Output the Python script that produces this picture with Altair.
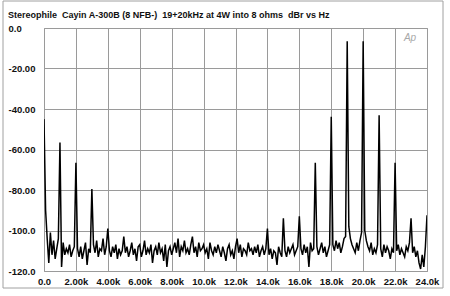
import altair as alt
import pandas as pd

title_text = "Stereophile  Cayin A-300B (8 NFB-)  19+20kHz at 4W into 8 ohms  dBr vs Hz"
logo_text = "Ap"

# FFT bin spacing (Hz)
bin_hz = 100

# Spectrum level (dBr), one value per 100 Hz bin, rows of 1 kHz
db_values = [
    -45, -90, -104, -116, -101, -112, -105, -114, -109, -104,      # 0k
    -56.5, -118, -106, -112, -109, -111, -107, -113, -110, -108,   # 1k
    -66.5, -109, -113, -108, -114, -110, -106, -117, -109, -111,   # 2k
    -79.5, -107, -111, -105, -113, -109, -110, -104, -112, -108,   # 3k
    -99, -110, -113, -108, -111, -107, -114, -109, -112, -110,     # 4k
    -103, -111, -108, -113, -110, -106, -112, -109, -115, -108,    # 5k
    -107, -113, -110, -105, -112, -109, -111, -107, -116, -110,    # 6k
    -108, -112, -106, -111, -109, -115, -107, -118, -110, -108,    # 7k
    -112, -109, -106, -111, -104, -113, -108, -110, -105, -111,    # 8k
    -109, -112, -107, -103, -111, -108, -113, -106, -110, -109,    # 9k
    -107, -111, -109, -114, -106, -110, -112, -108, -111, -107,    # 10k
    -110, -113, -108, -111, -115, -109, -107, -112, -110, -114,    # 11k
    -108, -104, -111, -107, -113, -109, -110, -112, -106, -110,    # 12k
    -109, -112, -108, -111, -107, -113, -110, -108, -112, -109,    # 13k
    -99, -112, -109, -114, -110, -111, -117, -108, -111, -113,     # 14k
    -94, -110, -113, -108, -111, -109, -107, -112, -110, -108,     # 15k
    -93, -109, -112, -107, -111, -108, -118, -106, -110, -109,     # 16k
    -66.5, -108, -112, -109, -106, -111, -108, -113, -110, -107,   # 17k
    -43.8, -107, -110, -105, -109, -106, -111, -108, -104, -103,   # 18k
    -6.6, -98, -104, -107, -109, -111, -106, -110, -105, -101,     # 19k
    -6.5, -100, -105, -108, -110, -106, -112, -109, -111, -107,    # 20k
    -43.1, -109, -113, -107, -111, -108, -110, -114, -109, -111,   # 21k
    -66.5, -110, -107, -112, -109, -111, -113, -108, -110, -106,   # 22k
    -94, -111, -108, -113, -110, -116, -119, -112, -118, -108,     # 23k
    -92.5,                                                         # 24k
]
freq_hz = [i * bin_hz for i in range(len(db_values))]

x_ticks = [0, 2000, 4000, 6000, 8000, 10000, 12000, 14000, 16000, 18000, 20000, 22000, 24000]
x_labels = ["0.0", "2.00k", "4.00k", "6.00k", "8.00k", "10.0k", "12.0k", "14.0k",
            "16.0k", "18.0k", "20.0k", "22.0k", "24.0k"]
y_ticks = [0, -20, -40, -60, -80, -100, -120]
y_labels = ["0.0", "-20.00", "-40.00", "-60.00", "-80.00", "-100.0", "-120.0"]


def label_expr(vals, labels):
    parts = [f"datum.value == {v} ? '{l}'" for v, l in zip(vals, labels)]
    return " : ".join(parts) + " : ''"


FONT = "Liberation Sans"
GRID = "#9a9a9a"

spec = pd.DataFrame({"f": freq_hz, "db": db_values})

x_enc = alt.X(
    "f:Q",
    scale=alt.Scale(domain=[0, 24000], nice=False, zero=False),
    axis=alt.Axis(
        values=x_ticks, labelExpr=label_expr(x_ticks, x_labels), title=None,
        grid=True, gridColor=GRID, gridWidth=1, gridOpacity=1,
        ticks=False, tickSize=0, domain=False, labelPadding=5,
        labelFont=FONT, labelFontSize=9.5, labelFontWeight="bold", labelColor="#111",
        labelOverlap=False, labelFlush=False,
    ),
)
y_enc = alt.Y(
    "db:Q",
    scale=alt.Scale(domain=[-120, 0], nice=False, zero=False),
    axis=alt.Axis(
        values=y_ticks, labelExpr=label_expr(y_ticks, y_labels), title=None,
        grid=True, gridColor=GRID, gridWidth=1, gridOpacity=1,
        ticks=False, tickSize=0, domain=False, labelPadding=36, labelAlign="left",
        labelFont=FONT, labelFontSize=9.5, labelFontWeight="bold", labelColor="#111",
        labelOverlap=False, labelFlush=False,
    ),
)

line = alt.Chart(spec).mark_line(color="#000", strokeWidth=1.5, clip=True).encode(x=x_enc, y=y_enc)

# keep the double spaces of the title visible in SVG
shown_title = title_text.replace("  ", " \u00a0")
one = pd.DataFrame({"t": [shown_title]})
frame = alt.Chart(one).mark_rect(fillOpacity=0, stroke="#a0a0a0", strokeWidth=1).encode(
    x=alt.value(-41), x2=alt.value(399), y=alt.value(-27), y2=alt.value(260)
)
title = alt.Chart(one).mark_text(
    align="left", baseline="middle", font=FONT, fontSize=9, fontWeight="bold", color="#111"
).encode(x=alt.value(-36), y=alt.value(-13), text="t:N")

logo = alt.Chart(pd.DataFrame({"t": [logo_text]})).mark_text(
    align="center", baseline="middle", font=FONT, fontSize=10, fontStyle="italic", color="#a8a8a8"
).encode(x=alt.value(366), y=alt.value(10), text="t:N")

chart = alt.layer(frame, line, title, logo).properties(
    width=383, height=243,
    padding={"left": 44, "top": 28, "right": 23, "bottom": 25},
    autosize=alt.AutoSizeParams(type="none"),
    background="white",
).configure_view(stroke=GRID, strokeWidth=1)

chart.save("out.html", embed_options={"renderer": "svg", "actions": False})
